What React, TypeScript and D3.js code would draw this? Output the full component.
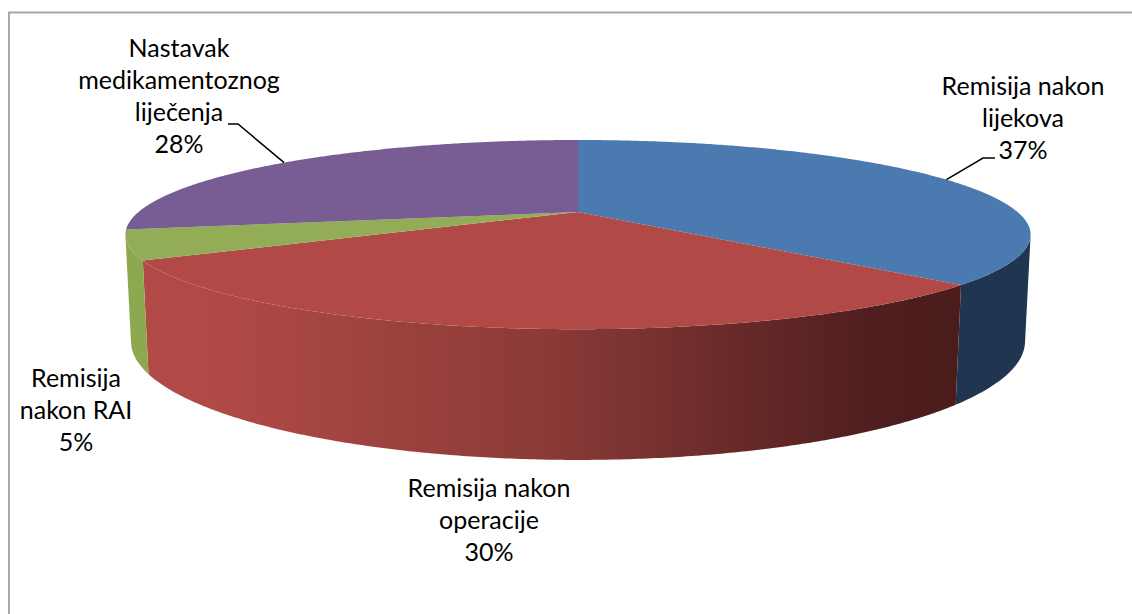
import * as d3 from "d3";
import React from "react";

const categories = [
  "Remisija nakon lijekova",
  "Remisija nakon operacije",
  "Remisija nakon RAI",
  "Nastavak medikamentoznog liječenja",
];
const values = [37, 30, 5, 28];
const labelLines = [
  ["Remisija nakon", "lijekova"],
  ["Remisija nakon", "operacije"],
  ["Remisija", "nakon RAI"],
  ["Nastavak", "medikamentoznog", "liječenja"],
];
const topColors = ["#4A7AB0", "#B14A47", "#92AD55", "#775D93"];
const sideColors = ["#1F3550", "url(#redSide)", "#8DA950", "#5E4877"];

// layout
const W = 1132;
const H = 614;
const cx = 578;
const cy = 212;
const scale = 439.5;
const tilt = Math.asin(0.203);
const dist = 4.1;
const depth = 0.238;
const fontSize = 25;
const lineH = 32;

const labelPos = [
  { x: 1023, y: 95, leader: [995, 158, -12] as [number, number, number] },
  { x: 489, y: 497, leader: null },
  { x: 76, y: 387, leader: null },
  { x: 179, y: 57, leader: [228, 124, 10] as [number, number, number] },
];

// simple perspective camera looking down on the pie
function project(theta: number, Y: number): [number, number] {
  const X = Math.sin(theta);
  const Z = Math.cos(theta);
  const yc = Y * Math.cos(tilt) + Z * Math.sin(tilt);
  const zc = -Y * Math.sin(tilt) + Z * Math.cos(tilt) + dist;
  return [cx + (scale * dist * X) / zc, cy - (scale * dist * yc) / zc];
}

function arcPoints(a0: number, a1: number, Y: number) {
  const n = Math.max(2, Math.ceil(Math.abs(a1 - a0) / 0.008));
  return d3.range(n + 1).map((i) => project(a0 + ((a1 - a0) * i) / n, Y));
}

const line = d3.line<[number, number]>();

// the rim faces the camera where cos(theta) < -1/(dist*cos(tilt))
const visA = Math.acos(-1 / (dist * Math.cos(tilt)));
const visB = 2 * Math.PI - visA;

export default function App() {
  const arcs = d3.pie<number>().sort(null).startAngle(0).endAngle(2 * Math.PI)(values);
  const total = d3.sum(values);

  const rims = arcs
    .map((a, i) => {
      const s = Math.max(a.startAngle, visA);
      const e = Math.min(a.endAngle, visB);
      if (e <= s) return null;
      const pts = [...arcPoints(s, e, 0), ...arcPoints(e, s, -depth)];
      return <path key={"rim" + i} d={line(pts) + "Z"} fill={sideColors[i]} />;
    })
    .filter(Boolean);

  const tops = arcs.map((a, i) => {
    const pts: [number, number][] = [[cx, cy], ...arcPoints(a.startAngle, a.endAngle, 0)];
    return <path key={"top" + i} d={line(pts) + "Z"} fill={topColors[i]} />;
  });

  const labels = arcs.map((a, i) => {
    const pos = labelPos[i];
    const lines = [...labelLines[i], `${Math.round((values[i] / total) * 100)}%`];
    let leader = null;
    if (pos.leader) {
      const mid = (a.startAngle + a.endAngle) / 2;
      const [ex, ey] = project(mid, 0);
      const [lx, ly, dx] = pos.leader;
      leader = (
        <polyline
          points={`${lx},${ly} ${lx + dx},${ly} ${ex},${ey}`}
          fill="none"
          stroke="#000"
          strokeWidth={1.5}
        />
      );
    }
    return (
      <g key={"lab" + i}>
        {leader}
        <text x={pos.x} y={pos.y} textAnchor="middle" fontSize={fontSize} fill="#000">
          {lines.map((t, j) => (
            <tspan key={j} x={pos.x} y={pos.y + j * lineH}>
              {t}
            </tspan>
          ))}
        </text>
      </g>
    );
  });

  return (
    <svg
      width={W}
      height={H}
      style={{ position: "absolute", left: 0, top: 0, fontFamily: "Lato, 'Open Sans', sans-serif" }}
      role="img"
      aria-label={categories.join(", ")}
    >
      <defs>
        <linearGradient id="redSide" gradientUnits="userSpaceOnUse" x1={140} x2={962} y1={0} y2={0}>
          <stop offset="0%" stopColor="#B24B47" />
          <stop offset="12%" stopColor="#AE4945" />
          <stop offset="50%" stopColor="#8A3A37" />
          <stop offset="88%" stopColor="#511F1F" />
          <stop offset="100%" stopColor="#4A1C1C" />
        </linearGradient>
      </defs>
      <rect x={0} y={0} width={W} height={H} fill="#fff" />
      <rect x={9} y={12.5} width={W + 50} height={H + 50} fill="none" stroke="#A8A8A8" strokeWidth={2} />
      {rims}
      {tops}
      {labels}
    </svg>
  );
}
